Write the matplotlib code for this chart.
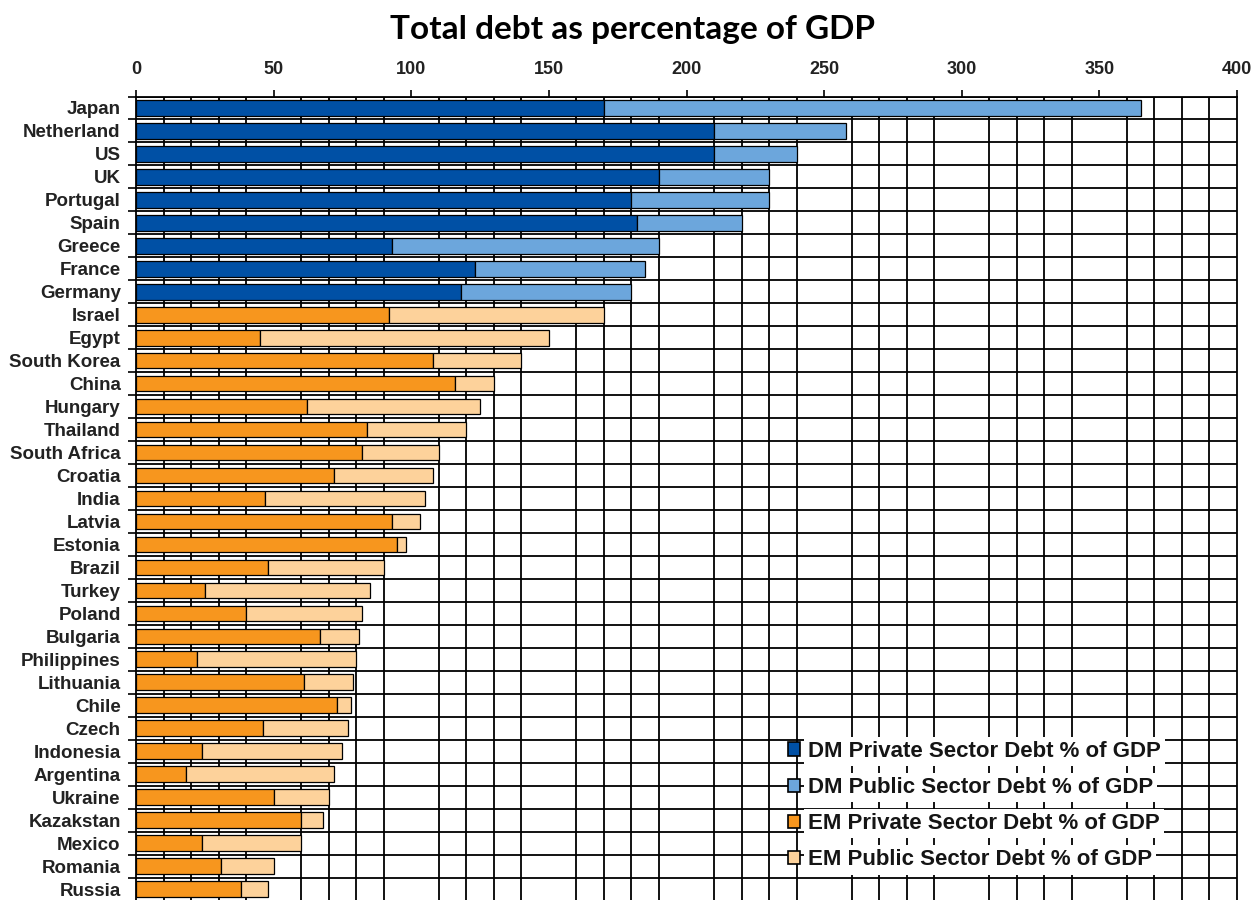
import matplotlib
matplotlib.use("Agg")
import matplotlib.pyplot as plt
import numpy as np
from matplotlib.patches import Patch

# ---- data ----
dm_countries = ["Japan", "Netherland", "US", "UK", "Portugal", "Spain", "Greece", "France", "Germany"]
dm_private = [170, 210, 210, 190, 180, 182, 93, 123, 118]
dm_total = [365, 258, 240, 230, 230, 220, 190, 185, 180]

em_countries = ["Israel", "Egypt", "South Korea", "China", "Hungary", "Thailand", "South Africa",
                "Croatia", "India", "Latvia", "Estonia", "Brazil", "Turkey", "Poland", "Bulgaria",
                "Philippines", "Lithuania", "Chile", "Czech", "Indonesia", "Argentina", "Ukraine",
                "Kazakstan", "Mexico", "Romania", "Russia"]
em_private = [92, 45, 108, 116, 62, 84, 82, 72, 47, 93, 95, 48, 25, 40, 67, 22, 61, 73, 46, 24,
              18, 50, 60, 24, 31, 38]
em_total = [170, 150, 140, 130, 125, 120, 110, 108, 105, 103, 98, 90, 85, 82, 81, 80, 79, 78, 77,
            75, 72, 70, 68, 60, 50, 48]

x_ticks = [0, 50, 100, 150, 200, 250, 300, 350, 400]
legend_labels = ["DM Private Sector Debt % of GDP", "DM Public Sector Debt % of GDP",
                 "EM Private Sector Debt % of GDP", "EM Public Sector Debt % of GDP"]
title = "Total debt as percentage of GDP"

# ---- styles ----
c_dm_priv = "#0050A5"
c_dm_pub = "#6CA6DC"
c_em_priv = "#F7961E"
c_em_pub = "#FDD29B"

plt.rcParams['font.family'] = ['Liberation Sans', 'DejaVu Sans']

W, H = 1255, 900
fig = plt.figure(figsize=(W / 100, H / 100), dpi=100)
ax_left, ax_right = 136 / W, 1237 / W
ax_top, ax_bottom = 96.5 / H, 900.5 / H
ax = fig.add_axes([ax_left, 1 - ax_bottom, ax_right - ax_left, ax_bottom - ax_top])

countries = dm_countries + em_countries
n = len(countries)
y = np.arange(n)
dm_public = [t - p for t, p in zip(dm_total, dm_private)]
em_public = [t - p for t, p in zip(em_total, em_private)]

bh = 0.68
ndm = len(dm_countries)
ax.barh(y[:ndm], dm_private, height=bh, color=c_dm_priv, edgecolor="black", linewidth=0.9, zorder=3)
ax.barh(y[:ndm], dm_public, left=dm_private, height=bh, color=c_dm_pub, edgecolor="black", linewidth=0.9, zorder=3)
ax.barh(y[ndm:], em_private, height=bh, color=c_em_priv, edgecolor="black", linewidth=0.9, zorder=3)
ax.barh(y[ndm:], em_public, left=em_private, height=bh, color=c_em_pub, edgecolor="black", linewidth=0.9, zorder=3)

ax.set_xlim(0, 400)
ax.set_ylim(n - 0.5, -0.5)

# x axis on top
ax.xaxis.tick_top()
ax.set_xticks(x_ticks)
ax.set_xticklabels([str(v) for v in x_ticks], fontsize=13, fontweight="bold", color="#222222")
ax.set_xticks(np.arange(0, 401, 10), minor=True)
ax.tick_params(axis="x", which="major", direction="out", length=5, width=1.2, pad=8, color="black")
ax.tick_params(axis="x", which="minor", length=0)

# y axis
ax.set_yticks(y)
ax.set_yticklabels(countries, fontsize=13.5, fontweight="bold", color="#222222")
ax.set_yticks(np.arange(-0.5, n, 1.0), minor=True)
ax.tick_params(axis="y", which="major", length=0, pad=11)
ax.tick_params(axis="y", which="minor", direction="out", length=6, width=1.2, color="black")

ax.grid(which="minor", axis="both", color="black", linewidth=1.3, zorder=0)
ax.grid(which="major", visible=False)
ax.set_axisbelow(True)

for s in ["top", "left", "right"]:
    ax.spines[s].set_color("black")
    ax.spines[s].set_linewidth(1.3)
ax.spines["bottom"].set_visible(False)

# legend
handles = [Patch(facecolor=c, edgecolor="black", linewidth=1.2) for c in
           [c_dm_priv, c_dm_pub, c_em_priv, c_em_pub]]
leg = ax.legend(handles, legend_labels, loc="upper left",
                bbox_to_anchor=(788 / W, 1 - 741 / H), bbox_transform=fig.transFigure,
                frameon=False, prop={"size": 16, "weight": "bold"},
                handlelength=0.55, handleheight=0.55, handletextpad=0.35,
                labelspacing=0.68, borderpad=0, borderaxespad=0)
for t in leg.get_texts():
    t.set_color("#151515")
    t.set_bbox(dict(facecolor="white", edgecolor="none", pad=3))

fig.text(633 / W, 1 - 30 / H, title, ha="center", va="center",
         fontsize=24, fontweight="bold", family=["Lato", "DejaVu Sans"])

fig.savefig("out.png", dpi=100)
